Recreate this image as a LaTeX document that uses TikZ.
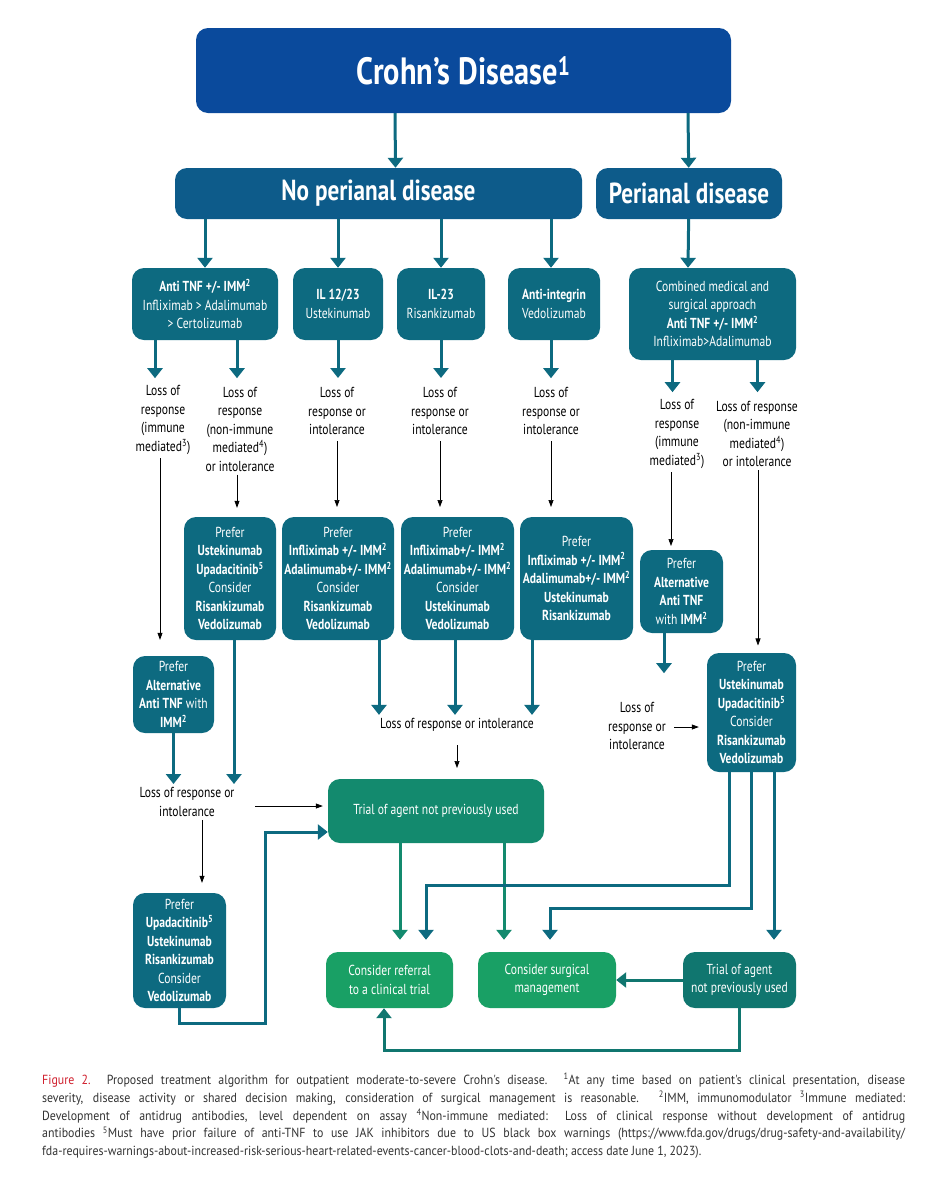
\documentclass[tikz,border=0pt]{standalone}
\usepackage{fontspec}
\setmainfont{PT Sans}[FakeStretch=0.8]
\newfontfamily\capfont{PT Sans}[FakeStretch=0.9]
\usepackage{tikz}
\usetikzlibrary{arrows.meta,%
                positioning}
\definecolor{titleblue}{HTML}{0A4A9C}
\definecolor{headblue}{HTML}{0D5B8A}
\definecolor{boxteal}{HTML}{0D6A80}
\definecolor{trialgreen}{HTML}{138A6E}
\definecolor{lightgreen}{HTML}{19A065}
\definecolor{darkgreen}{HTML}{10766F}
\definecolor{capred}{HTML}{D0202E}
\definecolor{capgray}{HTML}{333333}

\begin{document}
\begin{tikzpicture}[x=1pt,y=-1pt,
  box/.style={rounded corners=12pt,fill=boxteal,text=white,align=center,inner sep=0pt,
    font=\fontsize{14.5}{18.5}\selectfont},
  label/.style={align=center,font=\fontsize{14.5}{18.5}\selectfont},
  thick arrow/.style={draw=boxteal,line width=3pt,-{Triangle[width=15pt,length=10pt]}},
  green arrow/.style={thick arrow,draw=trialgreen},
  thin arrow/.style={draw=black,line width=0.7pt,-{Triangle[width=5pt,length=7pt]}}]
\useasboundingbox[fill=white] (0,0) rectangle (939,1200);
% top
\node[box,fill=titleblue,minimum width=535pt,minimum height=85pt,font=\fontsize{38}{40}\selectfont\bfseries]
  (crohn) at (463.5,70.5) {Crohn's Disease\textsuperscript{1}};
\node[box,fill=headblue,minimum width=407pt,minimum height=51pt,font=\fontsize{29}{30}\selectfont\bfseries]
  (nop) at (378.5,193.5) {No perianal disease};
\node[box,fill=headblue,minimum width=186pt,minimum height=51pt,font=\fontsize{29}{30}\selectfont\bfseries]
  (per) at (689,193.5) {Perianal disease};
\draw[thick arrow] ([xshift=-68.5pt]crohn.south) -- ([xshift=17pt]nop.north);
\draw[thick arrow] ([xshift=224.5pt]crohn.south) -- (per);
% first line of agents
\node[box,minimum width=146pt,minimum height=72pt] (tnf) at (205,304)
  {\textbf{Anti TNF +/- IMM\textsuperscript{2}}\\Infliximab > Adalimumab\\> Certolizumab};
\node[box,minimum width=90pt,minimum height=72pt] (il12) at (338,304) {\textbf{IL 12/23}\\Ustekinumab};
\node[box,minimum width=88pt,minimum height=72pt] (il23) at (441,304) {\textbf{IL-23}\\Risankizumab};
\node[box,minimum width=92pt,minimum height=72pt] (integ) at (554,304) {\textbf{Anti-integrin}\\Vedolizumab};
\node[box,minimum width=167pt,minimum height=92pt] (comb) at (712.5,314)
  {Combined medical and\\surgical approach\\\textbf{Anti TNF +/- IMM\textsuperscript{2}}\\Infliximab>Adalimumab};
\draw[thick arrow] (nop.south -| tnf.north) -- (tnf);
\draw[thick arrow] (nop.south -| il12.north) -- (il12);
\draw[thick arrow] (nop.south -| il23.north) -- (il23);
\draw[thick arrow] ([xshift=-3pt]nop.south -| integ.north) -- ([xshift=-3pt]integ.north);
\draw[thick arrow] (per) -- ([xshift=-24.5pt]comb.north);
% loss of response
\node[label] (lossA) at (163,420) {Loss of\\response\\(immune\\mediated\textsuperscript{3})};
\node[label] (lossB) at (240,429) {Loss of\\response\\(non-immune\\mediated\textsuperscript{4})\\or intolerance};
\node[label] (lossC) at (337,411) {Loss of\\response or\\intolerance};
\node[label] (lossD) at (440,411) {Loss of\\response or\\intolerance};
\node[label] (lossE) at (551,411) {Loss of\\response or\\intolerance};
\node[label] (lossF) at (677,434) {Loss of\\response\\(immune\\mediated\textsuperscript{3})};
\node[label] (lossG) at (757,434) {Loss of response\\(non-immune\\mediated\textsuperscript{4})\\or intolerance};
\draw[thick arrow] ([xshift=-50pt]tnf.south) -- ++(0,38);
\draw[thick arrow] ([xshift=32pt]tnf.south) -- ++(0,38);
\draw[thick arrow] (il12) -- ++(0,74);
\draw[thick arrow] (il23) -- ++(0,74);
\draw[thick arrow] ([xshift=-3pt]integ.south) -- ++(0,38);
\draw[thick arrow] ([xshift=-40pt]comb.south) -- ++(0,32);
\draw[thick arrow] ([xshift=45pt]comb.south) -- ++(0,32);
% second line of agents
\node[box,minimum width=92pt,minimum height=123pt] (pref1) at (230,578.5)
  {Prefer\\\textbf{Ustekinumab}\\\textbf{Upadacitinib\textsuperscript{5}}\\Consider\\\textbf{Risankizumab}\\\textbf{Vedolizumab}};
\node[box,minimum width=112pt,minimum height=123pt] (pref2) at (338,578.5)
  {Prefer\\\textbf{Infliximab +/- IMM\textsuperscript{2}}\\\textbf{Adalimumab+/- IMM\textsuperscript{2}}\\Consider\\\textbf{Risankizumab}\\\textbf{Vedolizumab}};
\node[box,minimum width=113pt,minimum height=123pt] (pref3) at (457.5,578.5)
  {Prefer\\\textbf{Infliximab+/- IMM\textsuperscript{2}}\\\textbf{Adalimumab+/- IMM\textsuperscript{2}}\\Consider\\\textbf{Ustekinumab}\\\textbf{Vedolizumab}};
\node[box,minimum width=113pt,minimum height=123pt] (pref4) at (576.5,578.5)
  {Prefer\\\textbf{Infliximab +/- IMM\textsuperscript{2}}\\\textbf{Adalimumab+/- IMM\textsuperscript{2}}\\\textbf{Ustekinumab}\\\textbf{Risankizumab}};
\node[box,minimum width=83pt,minimum height=83pt] (pref5) at (681.5,591.5)
  {Prefer\\\textbf{Alternative}\\\textbf{Anti TNF}\\with \textbf{IMM\textsuperscript{2}}};
\node[box,minimum width=81pt,minimum height=77pt] (altL) at (173.5,694.5)
  {Prefer\\\textbf{Alternative}\\\textbf{Anti TNF} with\\\textbf{IMM\textsuperscript{2}}};
\node[box,minimum width=89pt,minimum height=119pt] (pref6) at (751.5,712.5)
  {Prefer\\\textbf{Ustekinumab}\\\textbf{Upadacitinib\textsuperscript{5}}\\Consider\\\textbf{Risankizumab}\\\textbf{Vedolizumab}};
\draw[thin arrow] ([xshift=-3pt]lossA.south) -- ([xshift=-3pt,yshift=16pt]lossA.south |- altL.north);
\draw[thin arrow] ([xshift=-3pt]lossB.south) -- ([xshift=-3pt,yshift=9pt]lossB.south |- pref1.north);
\draw[thin arrow] (lossC) ++(0,30) -- ++(0,66);
\draw[thin arrow] (lossD) ++(0,30) -- ++(0,66);
\draw[thin arrow] (lossE) ++(0,30) -- ++(0,66);
\draw[thin arrow] ([xshift=-6pt]lossF.south) -- ++(0,74);
\draw[thin arrow] ([xshift=1pt]lossG.south) -- ++(0,175);
% loss after second line
\node[label] (lossM) at (457,725) {Loss of response or intolerance};
\node[label] (lossL) at (187,802) {Loss of response or\\intolerance};
\node[label] (lossR) at (637,726) {Loss of\\response or\\intolerance};
\draw[thick arrow] ([xshift=41pt]pref2.south) -- ([xshift=41pt]pref2.south |- lossM.north);
\draw[thick arrow] ([xshift=-2.5pt]pref3.south) -- ([xshift=-2.5pt]pref3.south |- lossM.north);
\draw[thick arrow] ([xshift=-44.5pt]pref4.south) -- ([xshift=-44.5pt]pref4.south |- lossM.north);
\draw[thick arrow] (altL) -- (altL.south |- lossL.north);
\draw[thick arrow] ([xshift=4pt]pref1.south) -- ([xshift=4pt]pref1.south |- lossL.north);
\draw[thick arrow] ([xshift=-17.5pt]pref5.south) -- ++(0,40);
\draw[thin arrow] (674,727) -- ([xshift=-8pt]pref6.west |- 0,727);
% trials and outcomes
\node[box,fill=trialgreen,minimum width=216pt,minimum height=64pt] (trial) at (436,811)
  {Trial of agent not previously used};
\node[box,minimum width=93pt,minimum height=115pt] (prefL) at (179.5,950.5)
  {Prefer\\\textbf{Upadacitinib\textsuperscript{5}}\\\textbf{Ustekinumab}\\\textbf{Risankizumab}\\Consider\\\textbf{Vedolizumab}};
\node[box,fill=lightgreen,minimum width=127pt,minimum height=56pt] (refer) at (389.5,980)
  {Consider referral\\to a clinical trial};
\node[box,fill=lightgreen,minimum width=138pt,minimum height=56pt] (surg) at (547,980)
  {Consider surgical\\management};
\node[box,fill=darkgreen,minimum width=113pt,minimum height=56pt] (trial2) at (739.5,980)
  {Trial of agent\\not previously used};
\draw[thin arrow] (255,806) -- ([xshift=-5pt]trial.west |- 0,806);
\draw[thin arrow] (lossM) ++(0,20) -- ++(0,23);
\draw[thin arrow] ([xshift=15pt]lossL.south) -- ([xshift=15pt,yshift=10pt]lossL.south |- prefL.north);
\draw[thick arrow] (prefL.south) |- (265,1023) |- ([yshift=-21pt]trial.west);
\draw[green arrow,shorten >=12pt] ([xshift=-36pt]trial.south) -- ([xshift=-36pt]trial.south |- refer.north);
\draw[green arrow,shorten >=12pt] ([xshift=68pt]trial.south) -- ([xshift=68pt]trial.south |- surg.north);
\coordinate (j1) at (426,885);
\coordinate (j2) at (550,908);
\draw[thick arrow,shorten >=12pt] ([xshift=-22.5pt]pref6.south) |- (j1) -- (j1 |- refer.north);
\draw[thick arrow,shorten >=12pt] (pref6.south) |- (j2) -- (j2 |- surg.north);
\draw[thick arrow,shorten >=12pt] ([xshift=22.5pt]pref6.south) -- ([xshift=22.5pt]pref6.south |- trial2.north);
\draw[green arrow,draw=darkgreen] (trial2.west) -- (surg.east);
\draw[green arrow,draw=darkgreen] (trial2.south) |- (384,1050) -- ([xshift=-5.5pt]refer.south);
% caption
\begin{scope}[every node/.style={anchor=west,inner sep=0pt,text=capgray,font=\capfont\fontsize{13.2}{15}\selectfont}]
\node (cap1) at (42,1080) {\hbox to 863pt{\textcolor{capred}{Figure 2.} Proposed treatment algorithm for outpatient moderate-to-severe Crohn's disease. \textsuperscript{1}At any time based on patient's clinical presentation, disease}};
\node (cap2) at (42,1098) {\hbox to 863pt{severity, disease activity or shared decision making, consideration of surgical management is reasonable. \textsuperscript{2}IMM, immunomodulator \textsuperscript{3}Immune mediated:}};
\node (cap3) at (42,1116) {\hbox to 863pt{Development of antidrug antibodies, level dependent on assay \textsuperscript{4}Non-immune mediated: Loss of clinical response without development of antidrug}};
\node (cap4) at (42,1134) {\hbox to 863pt{antibodies \textsuperscript{5}Must have prior failure of anti-TNF to use JAK inhibitors due to US black box warnings (https://www.fda.gov/drugs/drug-safety-and-availability/}};
\node (cap5) at (42,1152) {fda-requires-warnings-about-increased-risk-serious-heart-related-events-cancer-blood-clots-and-death; access date June 1, 2023).};
\end{scope}
\end{tikzpicture}
\end{document}
